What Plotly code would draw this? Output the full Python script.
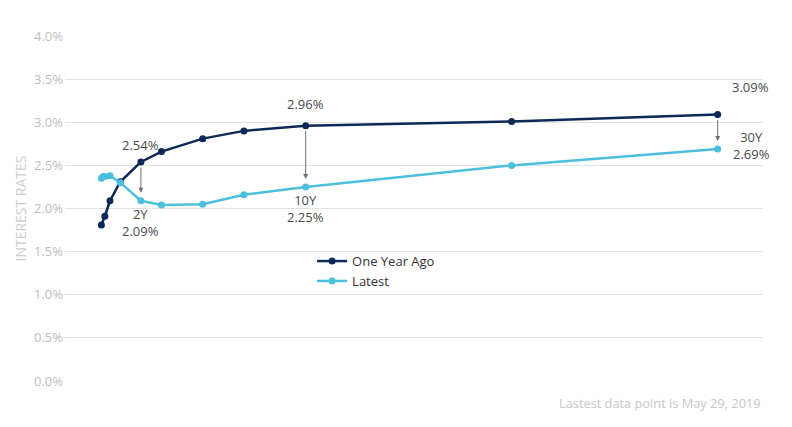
import plotly.graph_objects as go

# Data
old_tenors = ["1M", "3M", "6M", "1Y", "2Y", "3Y", "5Y", "7Y", "10Y", "20Y", "30Y"]
old_years = [1/12, 0.25, 0.5, 1, 2, 3, 5, 7, 10, 20, 30]
old_rates = [1.81, 1.91, 2.09, 2.31, 2.54, 2.66, 2.81, 2.90, 2.96, 3.01, 3.09]

new_tenors = ["1M", "2M", "3M", "6M", "1Y", "2Y", "3Y", "5Y", "7Y", "10Y", "20Y", "30Y"]
new_years = [1/12, 2/12, 0.25, 0.5, 1, 2, 3, 5, 7, 10, 20, 30]
new_rates = [2.35, 2.37, 2.37, 2.38, 2.30, 2.09, 2.04, 2.05, 2.16, 2.25, 2.50, 2.69]

highlight = ["2Y", "10Y", "30Y"]
y_ticks = [0, 0.5, 1.0, 1.5, 2.0, 2.5, 3.0, 3.5, 4.0]

NAVY = "#0c2856"
BLUE = "#4bbfdc"
FONT = "Open Sans"

fig = go.Figure()
fig.add_trace(go.Scatter(x=old_years, y=old_rates, mode="lines+markers", name="One Year Ago",
                         line=dict(color=NAVY, width=2.5), marker=dict(size=7, color=NAVY),
                         text=old_tenors))
fig.add_trace(go.Scatter(x=new_years, y=new_rates, mode="lines+markers", name="Latest",
                         line=dict(color=BLUE, width=2.5), marker=dict(size=7, color=BLUE),
                         text=new_tenors))

# per-label offsets (pixels)
old_shift = {"2Y": (0, 17), "10Y": (0, 22), "30Y": (33, 27)}
new_shift = {"2Y": (0, -22), "10Y": (0, -22), "30Y": (34, 3)}

for t in highlight:
    xo = old_years[old_tenors.index(t)]
    yo = old_rates[old_tenors.index(t)]
    yn = new_rates[new_tenors.index(t)]
    fig.add_annotation(x=xo, y=yn, ax=xo, ay=yo, axref="x", ayref="y", xref="x", yref="y",
                       text="", showarrow=True, arrowhead=2, arrowsize=1, arrowwidth=1,
                       arrowcolor="#6f6f6f", standoff=8, startstandoff=4)
    dx, dy = old_shift[t]
    fig.add_annotation(x=xo, y=yo, text=f"{yo:.2f}%", showarrow=False, xshift=dx, yshift=dy,
                       font=dict(family=FONT, size=13, color="#4a4a4a"))
    dx, dy = new_shift[t]
    fig.add_annotation(x=xo, y=yn, text=f"{t}<br>{yn:.2f}%", showarrow=False, xshift=dx, yshift=dy,
                       font=dict(family=FONT, size=13, color="#4a4a4a"))

fig.add_annotation(xref="paper", yref="paper", x=1.0, y=-0.065, xanchor="right", yanchor="middle",
                   text="Lastest data point is May 29, 2019", showarrow=False,
                   font=dict(family=FONT, size=12.8, color="#c8c8c8"))

fig.update_layout(
    width=784, height=419,
    margin=dict(l=57, r=29, t=28, b=46),
    plot_bgcolor="white", paper_bgcolor="white",
    font=dict(family=FONT),
    showlegend=True,
    legend=dict(x=0.354, y=0.391, xanchor="left", yanchor="top", bgcolor="rgba(0,0,0,0)",
                font=dict(family=FONT, size=13, color="#333333"), tracegroupgap=0),
    xaxis=dict(range=[-1.684, 32.2], showgrid=False, zeroline=False, showticklabels=False,
               showline=False, ticks=""),
    yaxis=dict(range=[0, 4], tickvals=y_ticks, ticktext=[f"{v:.1f}%" for v in y_ticks],
               showgrid=True, gridcolor="#e3e3e3", gridwidth=1, zeroline=False, showline=False,
               tickfont=dict(family=FONT, size=13, color="#bdbdbd"),
               title=dict(text="INTEREST RATES", font=dict(family=FONT, size=14, color="#cfcfcf"),
                          standoff=4),
               ticks="", ticklabelstandoff=1, automargin=False),
)

fig.write_html("out.html")
